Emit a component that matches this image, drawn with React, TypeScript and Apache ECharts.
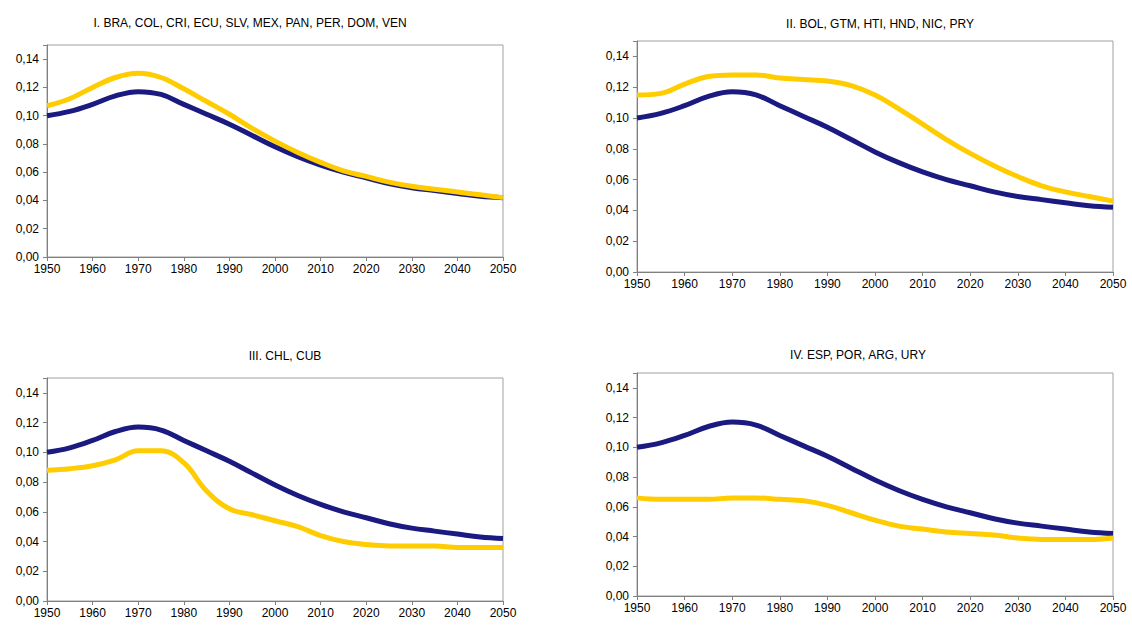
import React, { useEffect, useRef } from "react";
import * as echarts from "echarts";

const years = [1950, 1955, 1960, 1965, 1970, 1975, 1980, 1985, 1990, 1995, 2000, 2005, 2010, 2015, 2020, 2025, 2030, 2035, 2040, 2045, 2050];
const base = [0.1, 0.103, 0.108, 0.114, 0.117, 0.115, 0.108, 0.101, 0.094, 0.086, 0.078, 0.071, 0.065, 0.06, 0.056, 0.052, 0.049, 0.047, 0.045, 0.043, 0.042];
const group1 = [0.107, 0.112, 0.12, 0.127, 0.13, 0.127, 0.119, 0.11, 0.101, 0.091, 0.082, 0.074, 0.067, 0.061, 0.057, 0.053, 0.05, 0.048, 0.046, 0.044, 0.042];
const group2 = [0.115, 0.116, 0.122, 0.127, 0.128, 0.128, 0.126, 0.125, 0.124, 0.121, 0.115, 0.106, 0.096, 0.086, 0.077, 0.069, 0.062, 0.056, 0.052, 0.049, 0.046];
const group3 = [0.088, 0.089, 0.091, 0.095, 0.101, 0.101, 0.093, 0.074, 0.062, 0.058, 0.054, 0.05, 0.044, 0.04, 0.038, 0.037, 0.037, 0.037, 0.036, 0.036, 0.036];
const group4 = [0.066, 0.065, 0.065, 0.065, 0.066, 0.066, 0.065, 0.064, 0.061, 0.056, 0.051, 0.047, 0.045, 0.043, 0.042, 0.041, 0.039, 0.038, 0.038, 0.038, 0.039];
const titles = [
  "I. BRA, COL, CRI, ECU, SLV, MEX, PAN, PER, DOM, VEN",
  "II. BOL, GTM, HTI, HND, NIC, PRY",
  "III. CHL, CUB",
  "IV. ESP, POR, ARG, URY",
];
const groups = [group1, group2, group3, group4];

// 패널 위치 (px)
const panels = [
  { left: 47, top: 45, width: 456, height: 212, tx: 245, ty: 12 },
  { left: 637, top: 41, width: 476, height: 231, tx: 875, ty: 13 },
  { left: 47, top: 378, width: 456, height: 223, tx: 280, ty: 345 },
  { left: 637, top: 373, width: 476, height: 223, tx: 853, ty: 344 },
];

const font = "Liberation Sans, Arial, sans-serif";

const App: React.FC = () => {
  const chartRef = useRef<HTMLDivElement | null>(null);
  useEffect(() => {
    if (!chartRef.current) return;
    const chart = echarts.init(chartRef.current, undefined, { renderer: "svg" });
    const pair = (v: number[]) => years.map((y, i) => [y, v[i]]);
    chart.setOption({
      animation: false,
      backgroundColor: "#fff",
      title: panels.map((p, i) => ({
        text: titles[i],
        left: p.tx,
        top: p.ty,
        textAlign: "center",
        textStyle: { fontSize: 12, fontWeight: "normal", color: "#000", fontFamily: font },
      })),
      grid: panels.map((p) => ({
        left: p.left, top: p.top, width: p.width, height: p.height,
        show: true, borderColor: "#a0a0a0", borderWidth: 1,
      })),
      xAxis: panels.map((_, i) => ({
        type: "value", gridIndex: i, min: 1950, max: 2050, interval: 10,
        splitLine: { show: false },
        axisLine: { lineStyle: { color: "#808080" } },
        axisTick: { show: true, length: 4, lineStyle: { color: "#808080" } },
        axisLabel: { color: "#000", fontSize: 12, fontFamily: font, margin: 6, formatter: (v: number) => String(v) },
      })),
      yAxis: panels.map((_, i) => ({
        type: "value", gridIndex: i, min: 0, max: 0.15, interval: 0.02,
        splitLine: { show: false },
        axisLine: { show: true, lineStyle: { color: "#808080" } },
        axisTick: { show: true, length: 4, lineStyle: { color: "#808080" } },
        axisLabel: {
          color: "#000", fontSize: 12, fontFamily: font,
          formatter: (v: number) => (v > 0.145 ? "" : v.toFixed(2).replace(".", ",")),
        },
      })),
      series: groups.flatMap((g, i) => [
        {
          type: "line", xAxisIndex: i, yAxisIndex: i, data: pair(base), smooth: 0.4,
          showSymbol: false, lineStyle: { color: "#1a1a80", width: 5 },
        },
        {
          type: "line", xAxisIndex: i, yAxisIndex: i, data: pair(g), smooth: 0.4,
          showSymbol: false, lineStyle: { color: "#ffcc00", width: 5 },
        },
      ]),
    });
    return () => chart.dispose();
  }, []);
  return (
    <div
      ref={chartRef}
      style={{ position: "absolute", left: 0, top: 0, width: "1132px", height: "626px" }}
    />
  );
};

export default App;
